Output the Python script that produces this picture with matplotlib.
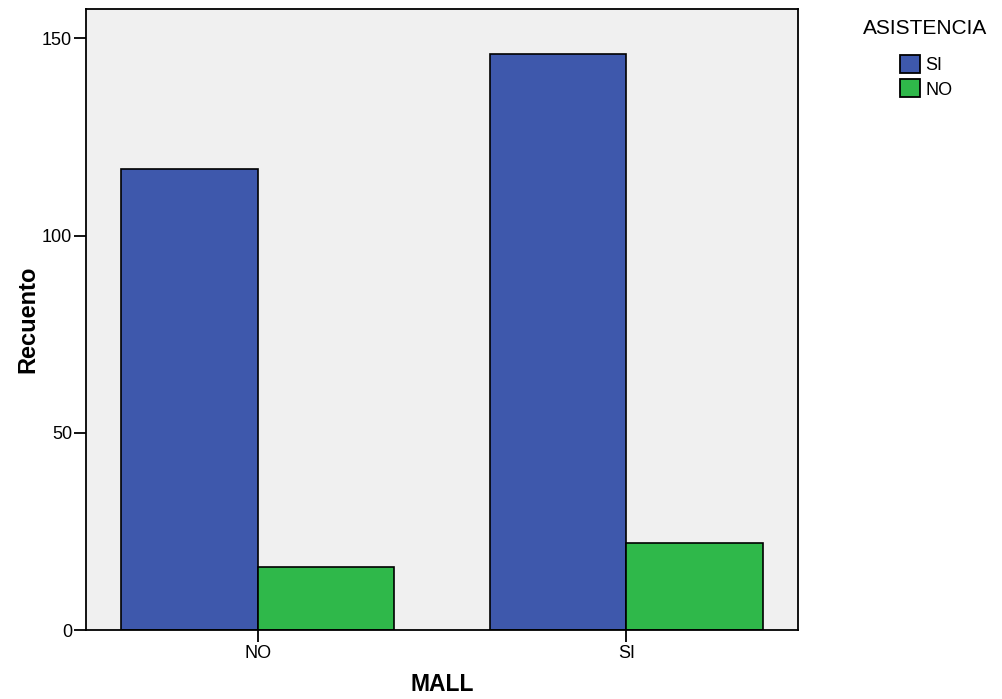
import numpy as np
import matplotlib
matplotlib.use("Agg")
import matplotlib.pyplot as plt
from matplotlib.patches import Patch

plt.rcParams['font.family'] = ['Liberation Sans', 'DejaVu Sans']

mall = ['NO', 'SI']
asistencia = ['SI', 'NO']
counts_si = [117, 146]
counts_no = [16, 22]
colors = ['#3e58ac', '#2fb84a']

fig = plt.figure(figsize=(10.02, 6.99), dpi=100)
ax = fig.add_axes([0.0858, 0.0987, 0.7106, 0.888])
ax.set_facecolor('#f0f0f0')

x = np.arange(len(mall))
w = 0.371
ax.bar(x - w / 2, counts_si, w, color=colors[0], edgecolor='black', linewidth=1.2, zorder=2)
ax.bar(x + w / 2, counts_no, w, color=colors[1], edgecolor='black', linewidth=1.2, zorder=2)

ax.set_xlim(-0.466, 1.466)
ax.set_ylim(0, 157.4)
ax.set_xticks(x)
ax.set_xticklabels(mall)
ax.set_yticks([0, 50, 100, 150])
ax.tick_params(axis='both', labelsize=13, length=8.6, width=1.3)
ax.tick_params(axis='y', pad=1.5)
ax.tick_params(axis='x', pad=2)
for s in ax.spines.values():
    s.set_linewidth(1.3)

ax.set_xlabel('MALL', fontsize=16.5, fontweight='bold', labelpad=8)
ax.set_ylabel('Recuento', fontsize=17, fontweight='bold', labelpad=2)

fig.text(925 / 1002, 1 - 28 / 699, 'ASISTENCIA', ha='center', va='center', fontsize=15)
handles = [Patch(facecolor=c, edgecolor='black', linewidth=1.3) for c in colors]
fig.legend(handles, asistencia, loc='upper left',
           bbox_to_anchor=(900 / 1002, 1 - 55 / 699), frameon=False, fontsize=13,
           handlelength=1.1, handleheight=1.15, handletextpad=0.3,
           labelspacing=0.3, borderpad=0, borderaxespad=0)

fig.savefig('out.png', dpi=100)
